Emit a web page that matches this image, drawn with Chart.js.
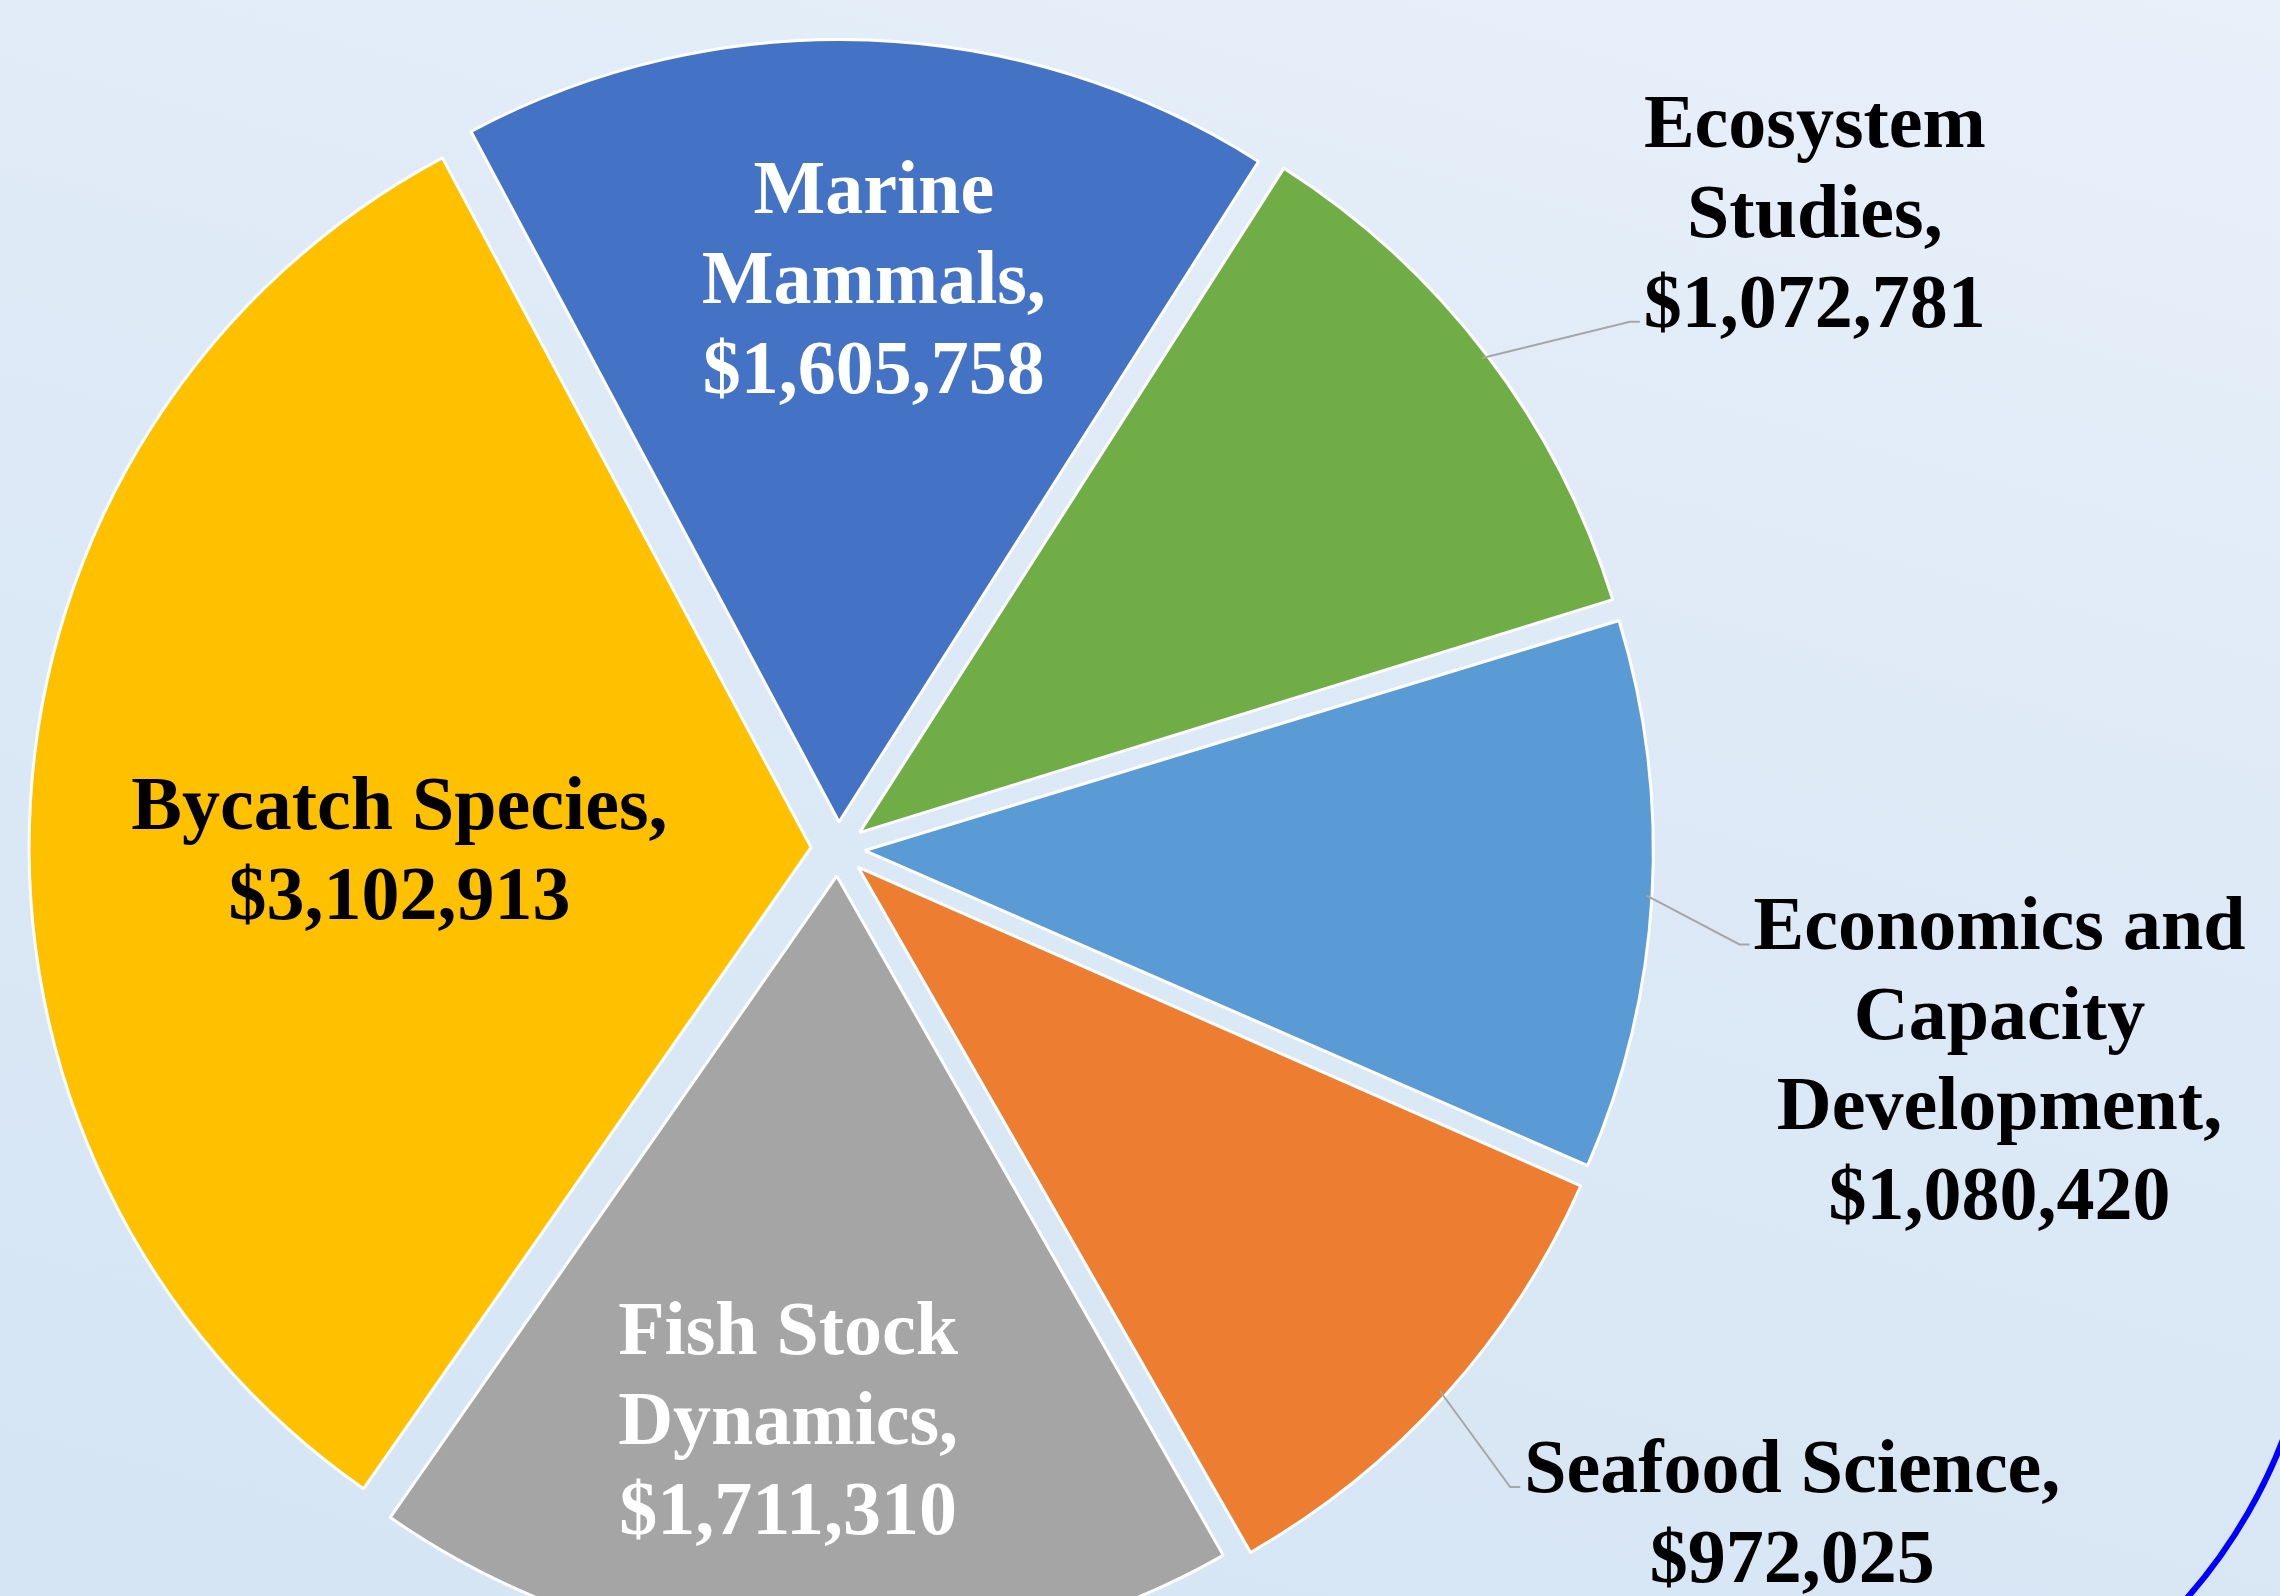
<!DOCTYPE html>
<html>
<head>
<meta charset="utf-8">
<script src="https://cdn.jsdelivr.net/npm/chart.js@4/dist/chart.umd.min.js"></script>
<style>
  html, body { margin: 0; padding: 0; }
  body {
    width: 2280px; height: 1596px; overflow: hidden;
    background: linear-gradient(195deg, #E8F0FA 0%, #DDE9F6 45%, #D5E5F4 100%);
  }
  canvas { display: block; }
</style>
</head>
<body>
<canvas id="pie" width="2280" height="1596"></canvas>
<script>
// Dados do gráfico
const categories = [
  ['Marine', 'Mammals'],
  ['Ecosystem', 'Studies'],
  ['Economics and', 'Capacity', 'Development'],
  ['Seafood Science'],
  ['Fish Stock', 'Dynamics'],
  ['Bycatch Species']
];
const values = [1605758, 1072781, 1080420, 972025, 1711310, 3102913];
const sliceColors = ['#4472C4', '#70AD47', '#5B9BD5', '#ED7D31', '#A5A5A5', '#FFC000'];
const labelColors = ['#FFFFFF', '#000000', '#000000', '#000000', '#FFFFFF', '#000000'];

// Posição dos rótulos (relativa ao centro, em raios); lead = linha ligada ao conector
const labelPlace = [
  { dx: 0.046, dy: -0.733 },
  { dx: 1.254, dy: -0.818, lead: 2 },
  { dx: 1.491, dy: 0.270, lead: 0 },
  { dx: 1.225, dy: 0.851, lead: 0 },
  { dx: -0.064, dy: 0.731 },
  { dx: -0.563, dy: 0.0 }
];

const FONT_SIZE = 76;
const LINE_H = 90;
const EXPLODE = 108; // Chart.js desloca offset/4 px

const fmt = v => '$' + v.toLocaleString('en-US');

// Rótulos + linhas de chamada
const pieLabels = {
  id: 'pieLabels',
  afterDatasetsDraw(chart) {
    const meta = chart.getDatasetMeta(0);
    const ctx = chart.ctx;
    const shift = EXPLODE / 4;
    ctx.save();
    ctx.font = `bold ${FONT_SIZE}px "Liberation Serif", "Times New Roman", serif`;
    ctx.textAlign = 'center';
    ctx.textBaseline = 'alphabetic';
    meta.data.forEach((arc, i) => {
      const cx = arc.x, cy = arc.y, R = arc.outerRadius;
      const lines = categories[i].slice();
      lines[lines.length - 1] += ',';
      lines.push(fmt(values[i]));
      const p = labelPlace[i];
      const bx = cx + p.dx * R, by = cy + p.dy * R;
      const first = by - (lines.length - 1) * LINE_H / 2;
      const capHalf = FONT_SIZE * 0.33;
      ctx.fillStyle = labelColors[i];
      lines.forEach((t, k) => ctx.fillText(t, bx, first + k * LINE_H + capHalf));

      if (p.lead !== undefined) {
        const mid = (arc.startAngle + arc.endAngle) / 2;
        const r0 = R + shift + 4;
        const sx = cx + Math.cos(mid) * r0, sy = cy + Math.sin(mid) * r0;
        const w = ctx.measureText(lines[p.lead]).width;
        const ex = bx - w / 2 - 4;
        const ey = first + p.lead * LINE_H + capHalf - 5;
        ctx.strokeStyle = '#A6A6A6';
        ctx.lineWidth = 2;
        ctx.beginPath();
        ctx.moveTo(sx, sy);
        ctx.lineTo(ex - 10, ey);
        ctx.lineTo(ex, ey);
        ctx.stroke();
      }
    });
    ctx.restore();
  }
};

// Arco azul decorativo no canto
const cornerArc = {
  id: 'cornerArc',
  afterDraw(chart) {
    const ctx = chart.ctx;
    ctx.save();
    ctx.strokeStyle = '#0000FF';
    ctx.lineWidth = 6;
    ctx.beginPath();
    ctx.arc(1793, 1251, 525, 10 * Math.PI / 180, 50 * Math.PI / 180);
    ctx.stroke();
    ctx.restore();
  }
};

new Chart(document.getElementById('pie'), {
  type: 'pie',
  data: {
    labels: categories,
    datasets: [{
      data: values,
      backgroundColor: sliceColors,
      borderColor: '#FFFFFF',
      borderWidth: 3,
      offset: EXPLODE,
      hoverOffset: EXPLODE,
      clip: false
    }]
  },
  options: {
    responsive: false,
    animation: false,
    events: [],
    rotation: -28.1,
    radius: 779,
    layout: { padding: { left: 0, right: 604, top: 102, bottom: 0 } },
    plugins: {
      legend: { display: false },
      tooltip: { enabled: false }
    }
  },
  plugins: [pieLabels, cornerArc]
});
</script>
</body>
</html>
